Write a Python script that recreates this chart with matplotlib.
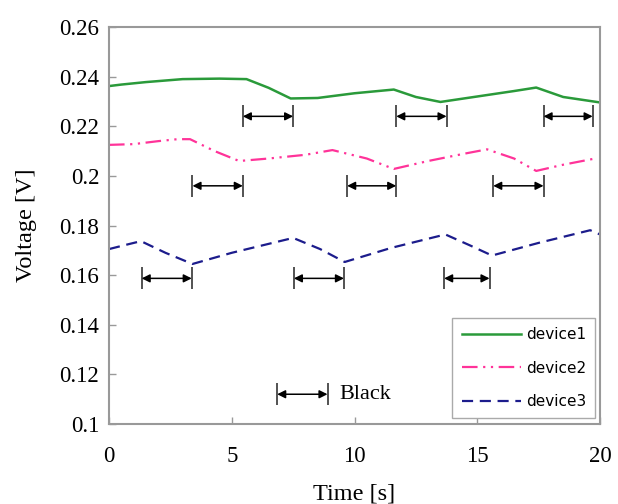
#!/usr/bin/env python3

import matplotlib

matplotlib.use("Agg")
import matplotlib.pyplot as plt

# voltage traces, key points
t_dev1 = [0, 0.5, 1.5, 3.0, 4.5, 5.6, 6.5, 7.4, 8.5, 10.0, 11.6, 12.5, 13.5,
          15.0, 16.5, 17.4, 18.5, 20]
v_dev1 = [0.2362, 0.2368, 0.2378, 0.2390, 0.2392, 0.2390, 0.2355, 0.2312,
          0.2314, 0.2333, 0.2348, 0.2318, 0.2298, 0.2320, 0.2342, 0.2356,
          0.2318, 0.2296]

t_dev2 = [0, 1.0, 2.0, 2.8, 3.3, 4.3, 5.3, 6.5, 8.0, 9.1, 10.5, 11.6, 13.0,
          14.5, 15.4, 16.5, 17.4, 18.5, 19.8]
v_dev2 = [0.2125, 0.2128, 0.2140, 0.2148, 0.2148, 0.2100, 0.2060, 0.2070,
          0.2085, 0.2104, 0.2070, 0.2028, 0.2060, 0.2090, 0.2107, 0.2070,
          0.2020, 0.2045, 0.2070]

t_dev3 = [0, 0.6, 1.3, 2.3, 3.4, 5.0, 7.5, 8.6, 9.6, 11.5, 13.7, 14.7, 15.6,
          17.5, 19.6, 20]
v_dev3 = [0.1705, 0.1720, 0.1737, 0.1690, 0.1645, 0.1690, 0.1750, 0.1705,
          0.1653, 0.1710, 0.1764, 0.1720, 0.1679, 0.1730, 0.1781, 0.1764]

# "Black" intervals drawn as double arrows under each trace
arrows_dev1 = [(5.45, 7.5), (11.7, 13.75), (17.7, 19.7)]
arrows_dev2 = [(3.4, 5.45), (9.7, 11.7), (15.65, 17.7)]
arrows_dev3 = [(1.33, 3.37), (7.53, 9.57), (13.65, 15.5)]
arrow_levels = [0.224, 0.196, 0.1587]
key_arrow = (6.85, 8.9)
key_level = 0.112

y_ticks = [0.1, 0.12, 0.14, 0.16, 0.18, 0.2, 0.22, 0.24, 0.26]
y_labels = ["0.1", "0.12", "0.14", "0.16", "0.18", "0.2", "0.22", "0.24", "0.26"]
x_ticks = [0, 5, 10, 15, 20]

SERIF = "Liberation Serif"
FRAME = "#999999"


def double_arrow(ax, t0, t1, y, half=0.0044):
    ax.annotate(
        "", xy=(t1, y), xytext=(t0, y),
        arrowprops=dict(arrowstyle="<|-|>", color="black", lw=1.1,
                        mutation_scale=12, shrinkA=0, shrinkB=0),
    )
    ax.vlines([t0, t1], y - half, y + half, colors="#444444", lw=1.3)


fig = plt.figure(figsize=(6.18, 5.04), dpi=100)
ax = fig.add_axes([0.1764, 0.1587, 0.7945, 0.7877])

ax.plot(t_dev1, v_dev1, color="#2a9a3a", lw=1.8, label="device1")
ax.plot(t_dev2, v_dev2, color="#ff3399", lw=1.6,
        dashes=[7, 2.5, 1, 2.5, 1, 2.5], label="device2")
ax.plot(t_dev3, v_dev3, color="#1c1c8c", lw=1.6, dashes=[5, 3],
        label="device3")

for spans, level in zip([arrows_dev1, arrows_dev2, arrows_dev3], arrow_levels):
    for t0, t1 in spans:
        double_arrow(ax, t0, t1, level)

double_arrow(ax, key_arrow[0], key_arrow[1], key_level)
ax.text(key_arrow[1] + 0.5, key_level, "Black", family=SERIF, fontsize=16,
        va="center", ha="left")

ax.set_xlim(0, 20)
ax.set_ylim(0.1, 0.26)
ax.set_xticks(x_ticks)
ax.set_yticks(y_ticks)
ax.set_yticklabels(y_labels)

for spine in ax.spines.values():
    spine.set_color(FRAME)
    spine.set_linewidth(1.5)

ax.tick_params(direction="in", length=5, color=FRAME, labelsize=16.5, width=1)
ax.tick_params(axis="x", pad=16)
ax.tick_params(axis="y", pad=7)
for lab in ax.get_xticklabels() + ax.get_yticklabels():
    lab.set_family(SERIF)

ax.set_xlabel("Time [s]", family=SERIF, fontsize=17.5, labelpad=12)
ax.set_ylabel("Voltage [V]", family=SERIF, fontsize=17.5, labelpad=16)

leg = ax.legend(loc="lower right", bbox_to_anchor=(0.99, 0.015),
                borderaxespad=0, fontsize=11, handlelength=3.9,
                labelspacing=1.2, fancybox=False, framealpha=1,
                edgecolor="#aaaaaa", borderpad=0.6, handletextpad=0.3)
leg.get_frame().set_linewidth(1)

fig.savefig("out.png", dpi=100)
